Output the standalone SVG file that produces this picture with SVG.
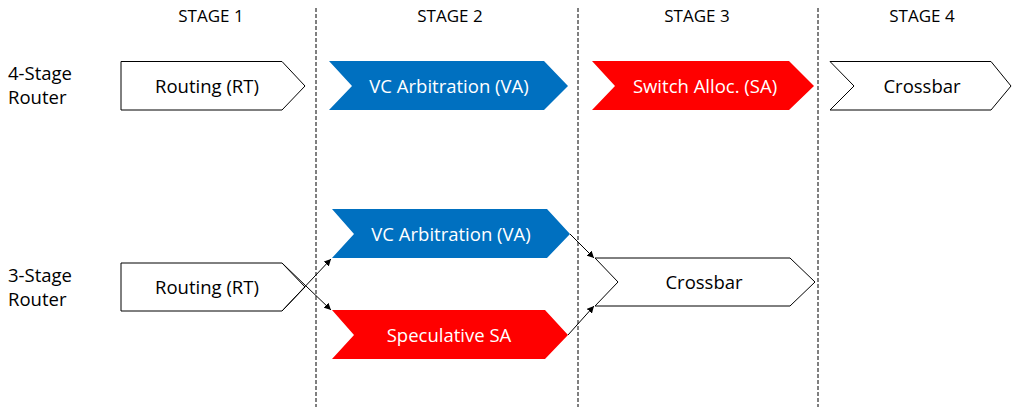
<svg xmlns="http://www.w3.org/2000/svg" width="1012" height="407" viewBox="0 0 1012 407">
<style>
text{font-family:"Open Sans","Liberation Sans",sans-serif;font-size:18.5px;fill:#000}
.lbl{text-anchor:middle;dominant-baseline:central}
.st{font-size:17px}
.w{fill:#fff}
.div{stroke:#000;stroke-width:1;stroke-dasharray:4,2}
.plain{fill:#fff;stroke:#000;stroke-width:1}
.blue{fill:#0070C0;stroke:none}
.red{fill:#FF0000;stroke:none}
.conn{stroke:#000;stroke-width:1;fill:none;marker-end:url(#ah)}
</style>
<defs>
<marker id="ah" viewBox="0 0 10 10" refX="10" refY="5" markerWidth="7" markerHeight="7" orient="auto" markerUnits="userSpaceOnUse">
<path d="M0,0 L10,5 L0,10 z" fill="#000"/>
</marker>
</defs>
<g id="dividers">
<line class="div" x1="316" y1="8" x2="316" y2="407"/>
<line class="div" x1="578" y1="8" x2="578" y2="407"/>
<line class="div" x1="818" y1="8" x2="818" y2="407"/>
</g>
<g id="stage-labels">
<text class="lbl st" x="211" y="15">STAGE 1</text>
<text class="lbl st" x="450" y="15">STAGE 2</text>
<text class="lbl st" x="697" y="15">STAGE 3</text>
<text class="lbl st" x="922" y="15">STAGE 4</text>
</g>
<g id="row-labels">
<text x="8" y="80">4-Stage</text>
<text x="8" y="104">Router</text>
<text x="8" y="282">3-Stage</text>
<text x="8" y="306">Router</text>
</g>
<g id="rt4">
<path class="plain" d="M121,61.5 H282 L305,86 L282,110 H121 Z"/>
<text class="lbl" x="207" y="85">Routing (RT)</text>
</g>
<g id="va4">
<path class="blue" d="M329,61 H544 L568,86 L544,110 H329 L352,86 Z"/>
<text class="lbl w" x="449" y="85">VC Arbitration (VA)</text>
</g>
<g id="sa4">
<path class="red" d="M592,61 H789 L814,86 L789,110 H592 L615,86 Z"/>
<text class="lbl w" x="705" y="85">Switch Alloc. (SA)</text>
</g>
<g id="xb4">
<path class="plain" d="M830,61.5 H991 L1011,86 L991,110 H830 L854,86 Z"/>
<text class="lbl" x="922" y="85">Crossbar</text>
</g>
<g id="rt3">
<path class="plain" d="M121,263 H282 L305,287 L282,311 H121 Z"/>
<text class="lbl" x="207" y="286">Routing (RT)</text>
</g>
<g id="va3">
<path class="blue" d="M332,209 H547 L570,234 L547,258 H332 L354,234 Z"/>
<text class="lbl w" x="451" y="233">VC Arbitration (VA)</text>
</g>
<g id="ssa3">
<path class="red" d="M332,310 H545 L568,335 L545,359 H332 L354,335 Z"/>
<text class="lbl w" x="449" y="334">Speculative SA</text>
</g>
<g id="xb3">
<path class="plain" d="M595,258 H790 L815,282 L790,306 H595 L618,282 Z"/>
<text class="lbl" x="704" y="281">Crossbar</text>
</g>
<g id="connectors">
<line class="conn" x1="282" y1="263" x2="331" y2="310"/>
<line class="conn" x1="282" y1="311" x2="331" y2="259"/>
<line class="conn" x1="570" y1="234" x2="594" y2="258"/>
<line class="conn" x1="568" y1="335" x2="594" y2="306"/>
</g>
</svg>
